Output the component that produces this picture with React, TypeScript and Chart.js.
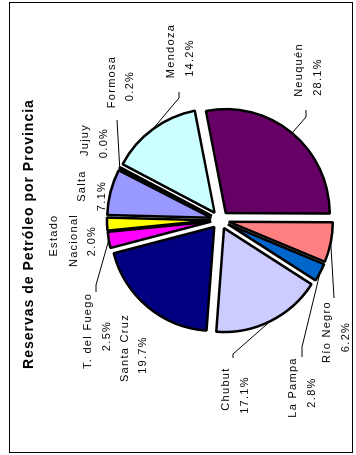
import React, { useEffect, useRef } from 'react';
import { Chart, registerables } from 'chart.js';

Chart.register(...registerables);

const TITLE = 'Reservas de Petróleo por Provincia';
const CATEGORIES = [
  'Neuquén',
  'Río Negro',
  'La Pampa',
  'Chubut',
  'Santa Cruz',
  'T. del Fuego',
  'Estado Nacional',
  'Salta',
  'Jujuy',
  'Formosa',
  'Mendoza',
];
const VALUES = [28.1, 6.2, 2.8, 17.1, 19.7, 2.5, 2.0, 7.1, 0.0, 0.2, 14.2];
const COLORS = [
  '#660066',
  '#FF8080',
  '#0066CC',
  '#CCCCFF',
  '#000080',
  '#FF00FF',
  '#FFFF00',
  '#9999FF',
  '#808080',
  '#000000',
  '#CCFFFF',
];

// Layout (unrotated canvas coordinates): per label, [centerX, baselineY] of each line
const LABEL_POS: number[][][] = [
  [[385, 302], [378, 321]],
  [[123, 330], [118, 349]],
  [[67.5, 296], [62.5, 315]],
  [[66, 229], [60, 248]],
  [[107, 127.5], [100, 146]],
  [[124, 91], [119, 109.5]],
  [[219.5, 57], [214.5, 76.5], [214, 95]],
  [[269, 85], [259, 104.5]],
  [[315, 87.5], [312, 107]],
  [[373, 115], [369, 133]],
  [[404, 174], [397, 192.5]],
];
// Leader line start (and elbow) points near each label; the end is on the slice
const LEADERS: (number[][] | null)[] = [
  [[345, 306], [338, 306]],
  [[157, 334]],
  [[98, 302], [108, 302]],
  [[97, 233], [101, 233]],
  null,
  [[163, 96], [170, 96]],
  null,
  null,
  null,
  [[335, 117]],
  [[363, 179], [357, 179]],
];

const EXPLODE = 9;
const W = 455;
const H = 356;

const piePlugin = {
  id: 'explodedLabels',
  beforeDatasetDraw(chart: any, args: any) {
    const ctx = chart.ctx;
    args.meta.data.forEach((arc: any) => {
      const p = arc.getProps(['startAngle', 'endAngle'], true);
      const mid = (p.startAngle + p.endAngle) / 2;
      ctx.save();
      ctx.translate(Math.cos(mid) * EXPLODE, Math.sin(mid) * EXPLODE);
      arc.draw(ctx);
      ctx.restore();
    });
    return false;
  },
  afterDraw(chart: any) {
    const ctx = chart.ctx;
    ctx.save();
    ctx.strokeStyle = '#000';
    ctx.lineWidth = 1;
    ctx.strokeRect(2.5, 9.5, 450, 343);

    ctx.fillStyle = '#000';
    ctx.textAlign = 'center';
    ctx.textBaseline = 'alphabetic';
    ctx.font = 'bold 14px "Liberation Sans", Arial, sans-serif';
    (ctx as any).letterSpacing = '1px';
    ctx.fillText(TITLE, 221, 33);

    ctx.font = '11px "Liberation Sans", Arial, sans-serif';
    (ctx as any).letterSpacing = '1.3px';
    const meta = chart.getDatasetMeta(0);
    CATEGORIES.forEach((name, i) => {
      const pos = LABEL_POS[i];
      const nameLines = pos.length > 2 ? name.split(' ') : [name];
      const lines = [...nameLines, VALUES[i].toFixed(1) + '%'];
      lines.forEach((t, k) => ctx.fillText(t, pos[k][0], pos[k][1]));
      const lead = LEADERS[i];
      if (lead) {
        const arc = meta.data[i];
        const p = arc.getProps(['x', 'y', 'startAngle', 'endAngle', 'outerRadius'], true);
        const mid = (p.startAngle + p.endAngle) / 2;
        const r = p.outerRadius + EXPLODE;
        const ex = p.x + Math.cos(mid) * r;
        const ey = p.y + Math.sin(mid) * r;
        ctx.beginPath();
        ctx.lineWidth = 1;
        ctx.moveTo(lead[0][0], lead[0][1]);
        for (let k = 1; k < lead.length; k++) ctx.lineTo(lead[k][0], lead[k][1]);
        ctx.lineTo(ex, ey);
        ctx.stroke();
      }
    });
    ctx.restore();
  },
};

export default function App() {
  const ref = useRef<HTMLCanvasElement | null>(null);
  useEffect(() => {
    if (!ref.current) return;
    const chart = new Chart(ref.current, {
      type: 'pie',
      data: {
        labels: CATEGORIES,
        datasets: [
          {
            data: VALUES,
            backgroundColor: COLORS,
            borderColor: '#000000',
            borderWidth: 2.5,
            rotation: 79,
            radius: 104,
          } as any,
        ],
      },
      options: {
        responsive: false,
        animation: false,
        events: [],
        layout: { padding: { left: 130, right: 115, top: 115, bottom: 31 } },
        plugins: {
          legend: { display: false },
          title: { display: false },
          tooltip: { enabled: false },
        },
      },
      plugins: [piePlugin as any],
    });
    return () => chart.destroy();
  }, []);

  return (
    <div style={{ position: 'absolute', left: 0, top: 0, width: 356, height: 455, overflow: 'hidden', background: '#fff' }}>
      <div
        style={{
          position: 'absolute',
          left: 0,
          top: 0,
          width: W,
          height: H,
          transformOrigin: '0 0',
          transform: `translate(0px, ${W}px) rotate(-90deg)`,
        }}
      >
        <canvas ref={ref} width={W} height={H} style={{ display: 'block' }} />
      </div>
    </div>
  );
}
